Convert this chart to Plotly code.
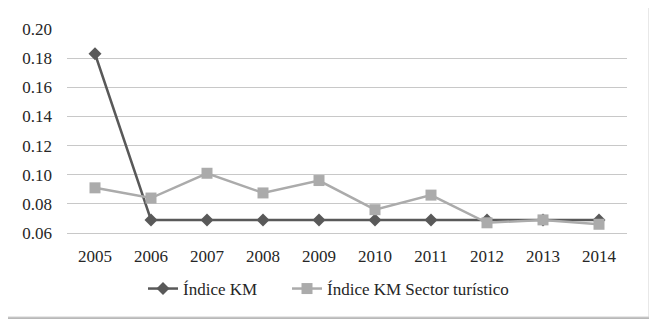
import plotly.graph_objects as go

years = ["2005", "2006", "2007", "2008", "2009", "2010", "2011", "2012", "2013", "2014"]
indice_km = [0.183, 0.069, 0.069, 0.069, 0.069, 0.069, 0.069, 0.069, 0.069, 0.069]
indice_km_turistico = [0.091, 0.084, 0.101, 0.0875, 0.096, 0.076, 0.086, 0.067, 0.069, 0.066]
y_ticks = [0.06, 0.08, 0.10, 0.12, 0.14, 0.16, 0.18, 0.20]

OFF = 8  # page body margin
W, H = 657 - OFF, 327 - OFF
L, R, T, B = 67 - OFF, 30, 29 - OFF, 94
pw, ph = W - L - R, H - T - B

def px(x):
    return (x - OFF - L) / pw

def py(y):
    return (H - B - (y - OFF)) / ph

FONT = "Liberation Serif, Times New Roman, serif"
FS = 17
TXT = "#262626"

fig = go.Figure()
fig.add_trace(go.Scatter(
    x=years, y=indice_km, name="Índice KM", mode="lines+markers",
    line=dict(color="#595959", width=2.5),
    marker=dict(symbol="diamond", size=10, color="#595959"),
    legend="legend",
))
fig.add_trace(go.Scatter(
    x=years, y=indice_km_turistico, name="Índice KM Sector turístico", mode="lines+markers",
    line=dict(color="#ababab", width=2.5),
    marker=dict(symbol="square", size=11, color="#ababab"),
    legend="legend2",
))

# chart frame with soft shadow
fig.add_shape(type="rect", xref="paper", yref="paper",
              x0=px(7), x1=px(651), y0=py(6), y1=py(319),
              line=dict(width=0), fillcolor="#b8b8b8", layer="below")
fig.add_shape(type="rect", xref="paper", yref="paper",
              x0=px(5), x1=px(649), y0=py(4), y1=py(317),
              line=dict(width=1, color="#d0d0d0"), fillcolor="white", layer="below")

leg_common = dict(orientation="h", yanchor="middle", xanchor="left",
                  font=dict(family=FONT, size=FS, color=TXT),
                  bgcolor="rgba(0,0,0,0)", borderwidth=0)

fig.update_layout(
    template="none",
    width=W, height=H,
    margin=dict(l=L, r=R, t=T, b=B, autoexpand=False),
    paper_bgcolor="white", plot_bgcolor="rgba(0,0,0,0)",
    font=dict(family=FONT, size=FS, color=TXT),
    showlegend=True,
    legend=dict(x=px(143), y=py(289), **leg_common),
    legend2=dict(x=px(287), y=py(289), **leg_common),
    xaxis=dict(type="category", range=[-0.5, 9.5], showgrid=False,
               showline=True, linecolor="#c8c8c8", linewidth=1,
               ticks="", ticklabelstandoff=8, fixedrange=True, automargin=False,
               tickfont=dict(family=FONT, size=FS, color=TXT)),
    yaxis=dict(range=[0.06, 0.20], tickvals=y_ticks, tickformat=".2f",
               showgrid=True, gridcolor="#c8c8c8", gridwidth=1,
               zeroline=False, showline=False, ticks="", ticklabelstandoff=14,
               fixedrange=True, automargin=False,
               tickfont=dict(family=FONT, size=FS, color=TXT)),
)

fig.write_html("out.html")
